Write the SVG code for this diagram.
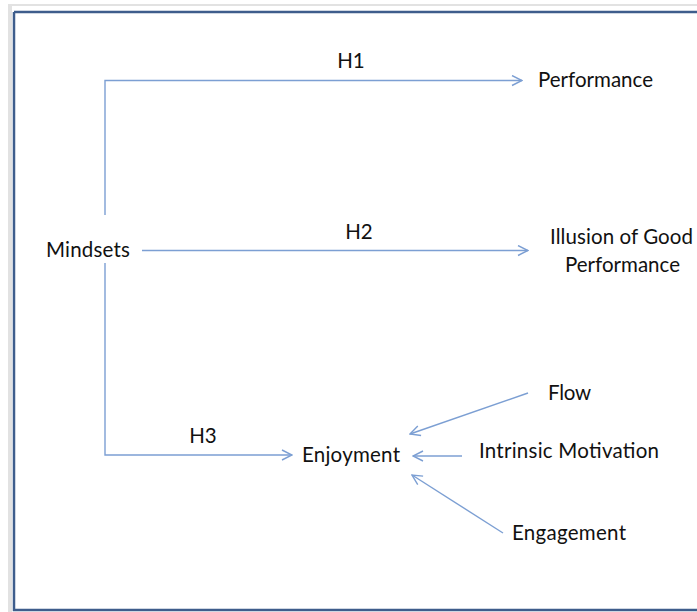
<svg xmlns="http://www.w3.org/2000/svg" width="697" height="612" viewBox="0 0 697 612">
<style>
.lbl{font-family:Lato,"Open Sans","Liberation Sans",sans-serif;font-size:20.5px;fill:#111;text-anchor:middle}
.con{fill:none;stroke:#7c9fd3;stroke-width:1.4}
</style>
<defs>
<marker id="arr" viewBox="0 0 12 12" refX="11" refY="6" markerWidth="12" markerHeight="12" markerUnits="userSpaceOnUse" orient="auto">
<path d="M1,1 L11,6 L1,11" fill="none" stroke="#7c9fd3" stroke-width="1.4"/>
</marker>
</defs>
<rect x="0" y="0" width="697" height="612" fill="#ffffff"/>
<g id="frame">
<rect x="8" y="4" width="689" height="2" fill="#e2e2e2"/>
<rect x="8" y="4" width="4" height="608" fill="#e2e2e2"/>
<path d="M14,12 H697 M14,12 V610 H697" fill="none" stroke="#3e5d8c" stroke-width="2.5"/>
</g>
<g id="connectors">
<path class="con" d="M105,215 V80.5 H522" marker-end="url(#arr)"/>
<path class="con" d="M142,250.5 H528" marker-end="url(#arr)"/>
<path class="con" d="M105,263 V455 H292" marker-end="url(#arr)"/>
<path class="con" d="M528,393 L410,434" marker-end="url(#arr)"/>
<path class="con" d="M462,456 L413,456" marker-end="url(#arr)"/>
<path class="con" d="M503,533 L412,475" marker-end="url(#arr)"/>
</g>
<g id="label-h1"><text class="lbl" x="351" y="68">H1</text></g>
<g id="label-h2"><text class="lbl" x="359" y="239">H2</text></g>
<g id="label-h3"><text class="lbl" x="203" y="443">H3</text></g>
<g id="node-mindsets"><text class="lbl" x="88" y="257" textLength="84">Mindsets</text></g>
<g id="node-performance"><text class="lbl" x="595.5" y="87" textLength="115">Performance</text></g>
<g id="node-illusion">
<text class="lbl" x="621.5" y="244" textLength="143">Illusion of Good</text>
<text class="lbl" x="622.5" y="272" textLength="115">Performance</text>
</g>
<g id="node-enjoyment"><text class="lbl" x="351" y="462" textLength="98">Enjoyment</text></g>
<g id="node-flow"><text class="lbl" x="569.5" y="400" textLength="43">Flow</text></g>
<g id="node-intrinsic"><text class="lbl" x="569" y="458" textLength="180">Intrinsic Motivation</text></g>
<g id="node-engagement"><text class="lbl" x="569" y="540" textLength="114">Engagement</text></g>
</svg>
